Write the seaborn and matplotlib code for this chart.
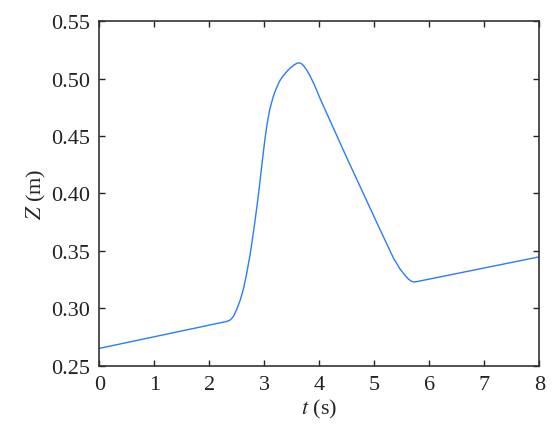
import matplotlib
matplotlib.use("Agg")
import matplotlib.pyplot as plt
import seaborn as sns
import pandas as pd

t_values = [0.0, 2.32, 2.38, 2.44, 2.50, 2.56, 2.62, 2.68, 2.74, 2.78, 2.83, 2.87,
            2.91, 2.96, 3.01, 3.05, 3.10, 3.16, 3.20, 3.25, 3.28, 3.32, 3.37, 3.42,
            3.46, 3.50, 3.55, 3.60, 3.64, 3.68, 3.72, 3.77, 3.83, 3.90, 3.95, 4.01,
            4.50, 5.10, 5.35, 5.42, 5.47, 5.52, 5.57, 5.62, 5.67, 5.71, 5.76, 8.0]
z_values = [0.2651, 0.2886, 0.2898, 0.2930, 0.2993, 0.3070, 0.3167, 0.3305, 0.3465,
            0.3590, 0.3760, 0.3905, 0.4060, 0.4270, 0.4470, 0.4605, 0.4735, 0.4840,
            0.4895, 0.4950, 0.4980, 0.5010, 0.5040, 0.5068, 0.5087, 0.5104, 0.5122,
            0.5135, 0.5137, 0.5128, 0.5108, 0.5075, 0.5025, 0.4955, 0.4900, 0.4830,
            0.4310, 0.3689, 0.3435, 0.3380, 0.3340, 0.3310, 0.3280, 0.3254, 0.3237,
            0.3230, 0.3231, 0.3448]
x_ticks = [0, 1, 2, 3, 4, 5, 6, 7, 8]
y_ticks = [0.25, 0.30, 0.35, 0.40, 0.45, 0.50, 0.55]

sns.set_style("ticks")
plt.rcParams["font.family"] = ["Liberation Serif", "DejaVu Serif"]
plt.rcParams["mathtext.fontset"] = "stix"

df = pd.DataFrame({"t": t_values, "z": z_values})

fig = plt.figure(figsize=(5.52, 4.35), dpi=100)
ax = fig.add_axes([0.18, 0.157, 0.797, 0.792])
sns.lineplot(data=df, x="t", y="z", ax=ax, color="#2b7cf6", linewidth=1.0,
             estimator=None, sort=False)

ax.set_xlim(0, 8)
ax.set_ylim(0.25, 0.55)
ax.set_xticks(x_ticks)
ax.set_yticks(y_ticks)
ax.set_xticklabels([str(v) for v in x_ticks])
ax.set_yticklabels([f"{v:.2f}" for v in y_ticks])
ax.tick_params(direction="in", top=True, right=True, length=4, width=1,
               labelsize=16, colors="#222222", pad=7)
for s in ax.spines.values():
    s.set_visible(True)
    s.set_color("#333333")
    s.set_linewidth(1.2)
ax.set_xlabel(r"$t$ (s)", fontsize=16, labelpad=2)
ax.set_ylabel(r"$Z$ (m)", fontsize=16, labelpad=2)

fig.savefig("out.png", dpi=100)
